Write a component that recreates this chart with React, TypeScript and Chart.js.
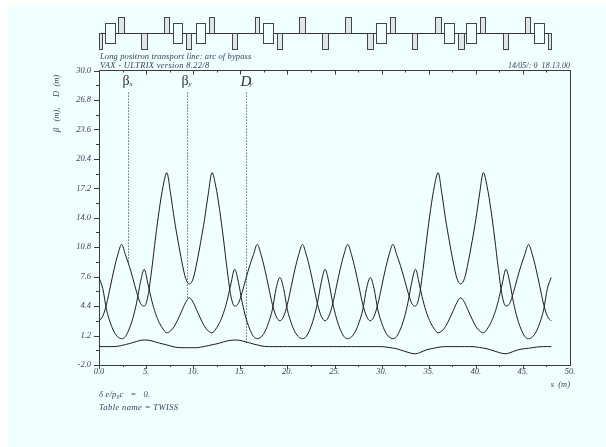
import React, { useEffect, useRef } from "react";
import { Chart, registerables } from "chart.js";

Chart.register(...registerables);

const sPositions = [
  0, 0.4, 0.8, 1.2, 1.6, 2, 2.4, 2.8, 3.2, 3.6, 4, 4.4, 4.8, 5.2, 5.6, 6, 6.4, 6.8, 7.2, 7.6,
  8, 8.4, 8.8, 9.2, 9.6, 10, 10.4, 10.8, 11.2, 11.6, 12, 12.4, 12.8, 13.2, 13.6, 14, 14.4, 14.8, 15.2, 15.6,
  16, 16.4, 16.8, 17.2, 17.6, 18, 18.4, 18.8, 19.2, 19.6, 20, 20.4, 20.8, 21.2, 21.6, 22, 22.4, 22.8, 23.2, 23.6,
  24, 24.4, 24.8, 25.2, 25.6, 26, 26.4, 26.8, 27.2, 27.6, 28, 28.4, 28.8, 29.2, 29.6, 30, 30.4, 30.8, 31.2, 31.6,
  32, 32.4, 32.8, 33.2, 33.6, 34, 34.4, 34.8, 35.2, 35.6, 36, 36.4, 36.8, 37.2, 37.6, 38, 38.4, 38.8, 39.2, 39.6,
  40, 40.4, 40.8, 41.2, 41.6, 42, 42.4, 42.8, 43.2, 43.6, 44, 44.4, 44.8, 45.2, 45.6, 46, 46.4, 46.8, 47.2, 47.6, 48,
];

const betaX = [
  2.8, 3.3, 4.6, 6.5, 8.4, 10.0, 11.1, 10.0, 8.8, 7.4, 5.9, 4.7, 4.4, 5.5, 8.4, 11.8, 14.9, 17.4, 18.9, 16.6,
  13.8, 11.4, 9.2, 7.4, 6.8, 7.4, 9.2, 11.4, 13.8, 16.6, 18.9, 17.4, 14.9, 11.8, 8.4, 5.5, 4.4, 4.7, 5.9, 7.4,
  8.8, 10.0, 11.1, 10.0, 8.4, 6.5, 4.6, 3.3, 2.8, 3.3, 4.6, 6.5, 8.4, 10.0, 11.1, 10.0, 8.4, 6.5, 4.6, 3.3,
  2.8, 3.3, 4.6, 6.5, 8.4, 10.0, 11.1, 10.0, 8.4, 6.5, 4.6, 3.3, 2.8, 3.3, 4.6, 6.5, 8.4, 10.0, 11.1, 10.0,
  8.8, 7.4, 5.9, 4.7, 4.4, 5.5, 8.4, 11.8, 14.9, 17.4, 18.9, 16.6, 13.8, 11.4, 9.2, 7.4, 6.8, 7.4, 9.2, 11.4,
  13.8, 16.6, 18.9, 17.4, 14.9, 11.8, 8.4, 5.5, 4.4, 4.7, 5.9, 7.4, 8.8, 10.0, 11.1, 10.0, 8.4, 6.5, 4.6, 3.3, 2.8,
];

const betaY = [
  7.5, 6.3, 4.0, 2.6, 1.6, 1.05, 0.86, 1.1, 1.9, 3.1, 4.8, 7.0, 8.4, 6.8, 5.0, 3.6, 2.6, 1.9, 1.5, 1.7,
  2.2, 3.0, 3.9, 4.8, 5.3, 4.8, 3.9, 3.0, 2.2, 1.7, 1.5, 1.9, 2.6, 3.6, 5.0, 6.8, 8.4, 7.0, 4.8, 3.1,
  1.9, 1.1, 0.86, 1.05, 1.6, 2.6, 4.0, 6.3, 7.5, 6.3, 4.0, 2.6, 1.6, 1.05, 0.86, 1.1, 1.9, 3.1, 4.8, 7.0,
  8.4, 7.0, 4.8, 3.1, 1.9, 1.1, 0.86, 1.05, 1.6, 2.6, 4.0, 6.3, 7.5, 6.3, 4.0, 2.6, 1.6, 1.05, 0.86, 1.1,
  1.9, 3.1, 4.8, 7.0, 8.4, 6.8, 5.0, 3.6, 2.6, 1.9, 1.5, 1.7, 2.2, 3.0, 3.9, 4.8, 5.3, 4.8, 3.9, 3.0,
  2.2, 1.7, 1.5, 1.9, 2.6, 3.6, 5.0, 6.8, 8.4, 7.0, 4.8, 3.1, 1.9, 1.1, 0.86, 1.05, 1.6, 2.6, 4.0, 6.3, 7.5,
];

const dispersion = [
  0, 0, 0, 0, 0, 0.04, 0.12, 0.22, 0.32, 0.44, 0.56, 0.68, 0.72, 0.7, 0.62, 0.5, 0.38, 0.28, 0.18, 0.06,
  -0.04, -0.1, -0.12, -0.12, -0.12, -0.12, -0.12, -0.06, 0.02, 0.1, 0.2, 0.28, 0.38, 0.5, 0.62, 0.68, 0.72, 0.7, 0.62, 0.5,
  0.4, 0.28, 0.18, 0.08, 0.02, 0, 0, 0, 0, 0, 0, 0, 0, 0, 0, 0, 0, 0, 0, 0,
  0, 0, 0, 0, 0, 0, 0, 0, 0, 0, 0, 0, 0, 0, 0, 0, -0.04, -0.1, -0.16, -0.24,
  -0.36, -0.5, -0.62, -0.74, -0.78, -0.68, -0.5, -0.34, -0.24, -0.16, -0.08, -0.02, 0, 0, 0, 0, 0, 0, 0, 0,
  -0.04, -0.1, -0.16, -0.24, -0.36, -0.5, -0.62, -0.74, -0.78, -0.68, -0.52, -0.38, -0.28, -0.22, -0.18, -0.12, -0.06, -0.02, 0, 0, 0,
];

// Beamline elements: start and end in s (m); kind: "B" bend, "F" focusing quad, "D" defocusing quad
const magnetStart = [0, 0.68, 2.06, 4.5, 6.9, 7.82, 9.24, 10.3, 11.68, 14.09, 16.53, 17.45, 18.9, 21.27, 23.7, 26.1, 28.5, 29.45, 30.9, 33.27, 35.7, 36.63, 38.1, 39, 40.45, 42.9, 45.2, 46.18, 47.66];
const magnetEnd = [0.3, 1.7, 2.62, 5.1, 7.47, 8.85, 9.81, 11.3, 12.25, 14.65, 17.03, 18.5, 19.47, 21.84, 24.27, 26.7, 29.05, 30.5, 31.46, 33.8, 36.3, 37.73, 38.7, 40.06, 41, 43.46, 45.77, 47.24, 48];
const magnetKind = ["D", "B", "F", "D", "F", "B", "D", "B", "F", "D", "F", "B", "D", "F", "D", "F", "D", "B", "F", "D", "F", "B", "D", "B", "F", "D", "F", "B", "D"];

// Leader lines: s position, and the y value each one drops to
const leaderS = [3.13, 9.4, 15.66];
const leaderEnd = [8.9, 5.3, 0.45];
const leaderTop = 27.6;

const leaderSymbols = ["β", "β", "D"];
const leaderSubscripts = ["x", "y", "y"];

const titleLines = ["Long positron transport line: arc of bypass", "VAX - ULTRIX version 8.22/8"];
const dateStamp = "14/05/: 0  18.13.00";
const footerLines = ["δ e/p₀c   =   0.", "Table name = TWISS"];

const INK = "#37415f";
const AXIS = "#3c3c3c";

const overlay = {
  id: "madOverlay",
  afterDraw(chart: any) {
    const { ctx, scales, chartArea } = chart;
    const x = scales.x;
    const y = scales.y;
    ctx.save();

    // axis ticks
    ctx.strokeStyle = AXIS;
    ctx.lineWidth = 1;
    ctx.beginPath();
    x.ticks.forEach((t: any) => {
      const px = Math.round(x.getPixelForValue(t.value)) + 0.5;
      const major = t.value % 5 === 0;
      ctx.moveTo(px, chartArea.top);
      ctx.lineTo(px, chartArea.top + (major ? 4 : 2));
      if (t.value < 50) {
        ctx.moveTo(px, chartArea.bottom);
        ctx.lineTo(px, chartArea.bottom + (major ? 4 : 2));
      }
    });
    y.ticks.forEach((t: any, i: number) => {
      const py = Math.round(y.getPixelForValue(t.value)) + 0.5;
      ctx.moveTo(chartArea.left, py);
      ctx.lineTo(chartArea.left - (i % 2 === 0 ? 5 : 3), py);
    });
    ctx.stroke();

    // beamline schematic above the plot
    const axisY = 28.5;
    ctx.beginPath();
    ctx.moveTo(x.getPixelForValue(0), axisY);
    ctx.lineTo(x.getPixelForValue(48), axisY);
    ctx.strokeStyle = "#333";
    ctx.stroke();
    magnetKind.forEach((kind, i) => {
      const a = Math.round(x.getPixelForValue(magnetStart[i])) + 0.5;
      const b = Math.round(x.getPixelForValue(magnetEnd[i])) + 0.5;
      const top = kind === "B" ? 18.5 : kind === "F" ? 12.5 : axisY;
      const bottom = kind === "B" ? 38.5 : kind === "F" ? axisY : 44.5;
      ctx.fillStyle = kind === "B" ? "#f0ffff" : "#dfe6e6";
      ctx.fillRect(a, top, b - a, bottom - top);
      ctx.strokeStyle = "#444";
      ctx.strokeRect(a, top, b - a, bottom - top);
    });

    // leader labels
    ctx.fillStyle = "#333";
    ctx.textAlign = "left";
    ctx.textBaseline = "alphabetic";
    leaderS.forEach((s, i) => {
      const px = x.getPixelForValue(s);
      const sym = leaderSymbols[i];
      ctx.font = sym === "D" ? "italic 15px 'Liberation Serif'" : "14px 'Liberation Serif'";
      ctx.fillText(sym, px - 6, sym === "D" ? 81 : 80);
      ctx.font = "italic 7px 'Liberation Serif'";
      ctx.fillText(leaderSubscripts[i], px + (sym === "D" ? 3 : 1), 81);
    });

    // free text
    ctx.fillStyle = INK;
    ctx.font = "italic 8.5px 'Liberation Serif'";
    ctx.letterSpacing = "0.12px";
    ctx.fillText(titleLines[0], 92, 54);
    ctx.letterSpacing = "0.3px";
    ctx.fillText(titleLines[1], 92, 62.5);
    ctx.textAlign = "right";
    ctx.letterSpacing = "0.05px";
    ctx.font = "italic 8px 'Liberation Serif'";
    ctx.fillText(dateStamp, 562, 62.5);
    ctx.textAlign = "left";
    ctx.font = "italic 8.5px 'Liberation Serif'";
    ctx.letterSpacing = "0.2px";
    ctx.fillText(footerLines[0], 91, 392);
    ctx.letterSpacing = "0.4px";
    ctx.fillText(footerLines[1], 91, 405);
    ctx.restore();
  },
};

const curve = (label: string, values: number[]) => ({
  label,
  data: sPositions.map((s, i) => ({ x: s, y: values[i] })),
  borderColor: "#1c1c1c",
  borderWidth: 1,
  pointRadius: 0,
  cubicInterpolationMode: "monotone" as const,
});

const leader = (i: number) => ({
  label: `leader ${leaderSymbols[i]}${leaderSubscripts[i]}`,
  data: [
    { x: leaderS[i], y: leaderTop },
    { x: leaderS[i], y: leaderEnd[i] },
  ],
  borderColor: "#222",
  borderWidth: 1,
  borderDash: [1, 2],
  pointRadius: 0,
});

export default function App() {
  const ref = useRef<HTMLCanvasElement>(null);

  useEffect(() => {
    const tickFont = { family: "'Liberation Serif'", size: 8.5, style: "italic" as const };
    const chart = new Chart(ref.current!, {
      type: "line",
      data: {
        datasets: [
          curve("βx", betaX),
          curve("βy", betaY),
          curve("Dy", dispersion),
          leader(0),
          leader(1),
          leader(2),
        ],
      },
      plugins: [overlay],
      options: {
        animation: false,
        responsive: false,
        devicePixelRatio: 1,
        layout: { padding: { top: 65.5, right: 36, left: 0, bottom: 0 } },
        plugins: { legend: { display: false }, tooltip: { enabled: false } },
        scales: {
          x: {
            type: "linear",
            min: 0,
            max: 50,
            ticks: {
              stepSize: 2.5,
              autoSkip: false,
              maxRotation: 0,
              color: INK,
              font: tickFont,
              padding: 2,
              callback: (v: any) => (v % 5 === 0 ? (v === 0 ? "0.0" : `${v}.`) : ""),
            },
            grid: { display: false, drawTicks: false },
            border: { color: AXIS, width: 1 },
            title: {
              display: true,
              text: "s  (m)",
              align: "end",
              color: INK,
              font: tickFont,
              padding: { top: 0, bottom: 57 },
            },
            afterFit: (s: any) => {
              s.height = 82;
            },
          },
          y: {
            type: "linear",
            min: -2,
            max: 30,
            ticks: {
              stepSize: 1.6,
              autoSkip: false,
              color: INK,
              font: tickFont,
              padding: 8,
              callback: (v: any, i: number) => (i % 2 === 0 ? Number(v).toFixed(1) : ""),
            },
            grid: { display: false, drawTicks: false },
            border: { color: AXIS, width: 1 },
            title: {
              display: true,
              text: "β   (m),     D  (m)  ",
              align: "end",
              color: INK,
              font: tickFont,
              padding: { top: 44, bottom: 0 },
            },
            afterFit: (s: any) => {
              s.width = 91;
            },
          },
          right: {
            type: "linear",
            position: "right",
            display: true,
            min: -2,
            max: 30,
            ticks: { display: false },
            grid: { display: false, drawTicks: false },
            border: { color: AXIS, width: 1 },
            afterFit: (s: any) => {
              s.width = 0;
            },
          },
          top: {
            type: "linear",
            position: "top",
            display: true,
            min: 0,
            max: 50,
            ticks: { display: false },
            grid: { display: false, drawTicks: false },
            border: { color: AXIS, width: 1 },
            afterFit: (s: any) => {
              s.height = 0;
            },
          },
        },
      } as any,
    });
    return () => chart.destroy();
  }, []);

  return (
    <div style={{ position: "fixed", left: 8, top: 5, right: 0, bottom: 0, background: "#f0ffff", overflow: "hidden" }}>
      <canvas ref={ref} width={598} height={442} style={{ display: "block" }} />
    </div>
  );
}
